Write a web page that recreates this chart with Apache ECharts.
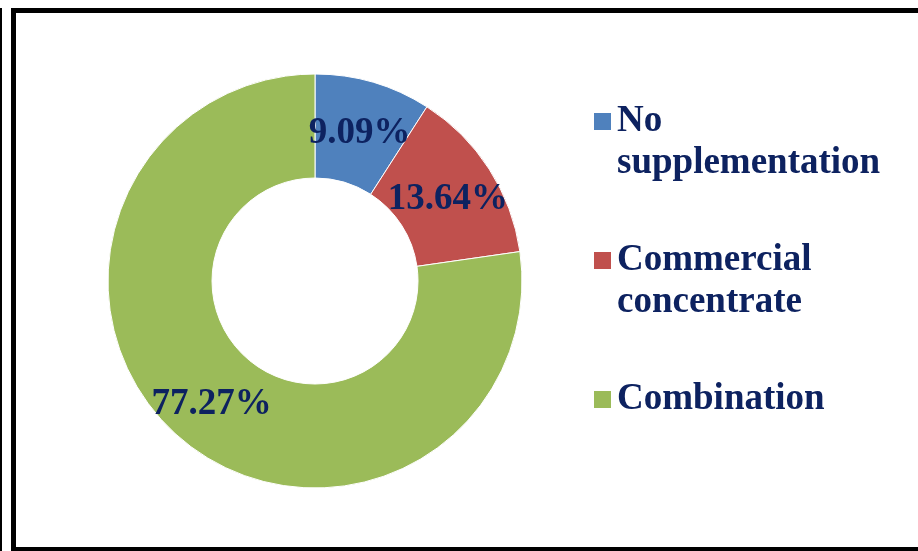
<!DOCTYPE html>
<html>
<head>
<meta charset="utf-8">
<style>
  html, body { margin: 0; padding: 0; background: #ffffff; }
  #chart { width: 918px; height: 551px; }
</style>
<script src="https://cdn.jsdelivr.net/npm/echarts@6/dist/echarts.min.js"></script>
</head>
<body>
<div id="chart"></div>
<script>
// Supplementation practice shares (percent of respondents)
const categories = ['No\nsupplementation', 'Commercial\nconcentrate', 'Combination'];
const shares = [9.09, 13.64, 77.27];
const sliceColors = ['#4f81bd', '#c0504d', '#9bbb59'];

const TEXT_COLOR = '#0d2260';
const FONT = '"Liberation Serif", "Times New Roman", serif';

// One legend block per category; two-line names get an empty leading line so
// the swatch sits beside the first line of text
const legendTops = [58.5, 197.5, 378.5];
const legends = categories.map((name, i) => ({
  data: [name],
  orient: 'vertical',
  left: 592,
  top: legendTops[i],
  padding: 0,
  itemWidth: 19,
  itemHeight: 19,
  icon: 'rect',
  selectedMode: false,
  formatter: n => (n.indexOf('\n') >= 0 ? '\n' + n : n),
  textStyle: {
    color: TEXT_COLOR,
    fontFamily: FONT,
    fontWeight: 'bold',
    fontSize: 37,
    lineHeight: 42
  }
}));

const chart = echarts.init(document.getElementById('chart'), null, { renderer: 'canvas' });
chart.setOption({
  animation: false,
  backgroundColor: '#ffffff',
  color: sliceColors,
  legend: legends,
  graphic: [
    { type: 'rect', shape: { x: 0, y: 8, width: 2, height: 545 }, style: { fill: '#000' }, silent: true },
    { type: 'rect', shape: { x: 13.5, y: 10.5, width: 930, height: 539 },
      style: { fill: 'none', stroke: '#000', lineWidth: 5 }, silent: true }
  ],
  series: [{
    type: 'pie',
    center: [315, 281],
    radius: [103, 207],
    startAngle: 90,
    clockwise: true,
    avoidLabelOverlap: false,
    itemStyle: { borderColor: '#ffffff', borderWidth: 1 },
    label: {
      show: true,
      position: 'inside',
      offset: [0, 4],
      formatter: p => p.value.toFixed(2) + '%',
      color: TEXT_COLOR,
      fontFamily: FONT,
      fontWeight: 'bold',
      fontSize: 37
    },
    labelLine: { show: false },
    emphasis: { disabled: true },
    data: categories.map((name, i) => ({ name, value: shares[i] }))
  }]
});
</script>
</body>
</html>
